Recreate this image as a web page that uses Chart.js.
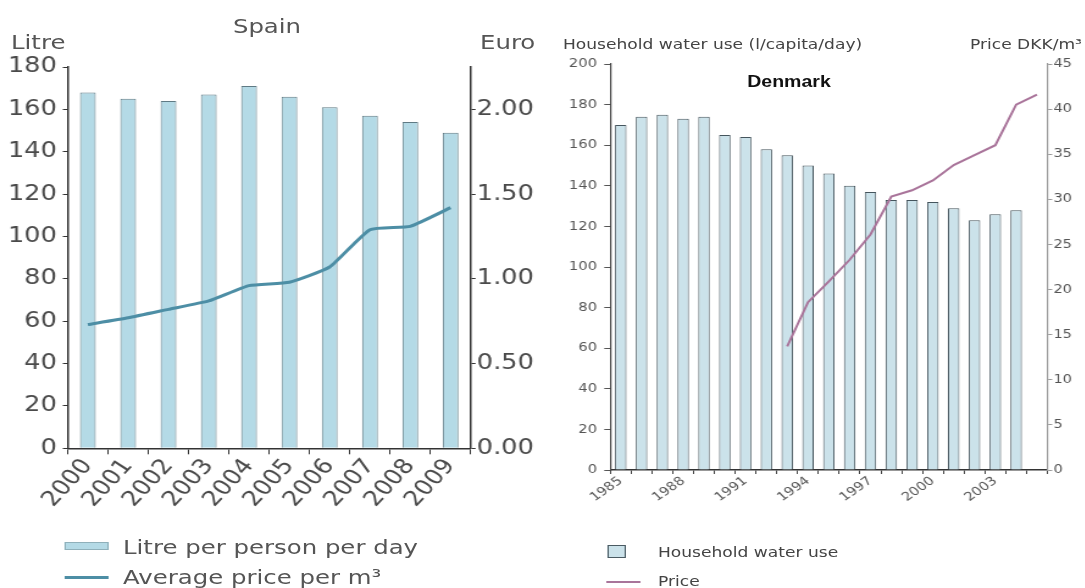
<!DOCTYPE html>
<html>
<head>
<meta charset="utf-8">
<script src="https://cdn.jsdelivr.net/npm/chart.js@4.4.0/dist/chart.umd.min.js"></script>
<style>
html,body{margin:0;padding:0;background:#fff;width:1085px;height:588px;overflow:hidden}
#stage{position:absolute;left:0;top:0;width:890px;height:588px;transform:scaleX(1.22);transform-origin:0 0}
canvas{position:absolute;top:0}
.t{position:absolute;white-space:nowrap;line-height:1}
.sp{font-family:"DejaVu Sans",sans-serif;font-size:20px;color:#555}
.dk{font-family:"DejaVu Sans",sans-serif;font-size:14px;color:#444}
.box{position:absolute}
</style>
</head>
<body>
<div id="stage">
  <canvas id="spain" width="443" height="520"></canvas>
  <canvas id="denmark" width="443" height="520"></canvas>

  <div class="t sp" data-x="267" data-y="26" data-a="c">Spain</div>
  <div class="t sp" data-x="11" data-y="42">Litre</div>
  <div class="t sp" data-x="480" data-y="42">Euro</div>
  <div class="box" data-x="65" data-y="542" data-w="43" data-h="8" style="background:#b4dae6;border:1px solid #8fb0ba;box-sizing:border-box"></div>
  <div class="t sp" data-x="123" data-y="547">Litre per person per day</div>
  <div class="box" data-x="65" data-y="576" data-w="43" data-h="3" style="background:#4d8ea5"></div>
  <div class="t sp" data-x="123" data-y="577">Average price per m³</div>

  <div class="t dk" data-x="563" data-y="44">Household water use (l/capita/day)</div>
  <div class="t dk" data-x="970" data-y="44">Price DKK/m³</div>
  <div class="t" data-x="789" data-y="82" data-a="c" style="font-family:'Liberation Sans',Arial,sans-serif;font-weight:bold;font-size:16px;color:#111">Denmark</div>
  <div class="box" data-x="608" data-y="545" data-w="18" data-h="13" style="background:#cbe2ea;border:1px solid #4a5a62;box-sizing:border-box"></div>
  <div class="t dk" data-x="658" data-y="552">Household water use</div>
  <div class="box" data-x="606" data-y="581" data-w="35" data-h="2" style="background:#a9749a"></div>
  <div class="t dk" data-x="658" data-y="581">Price</div>
</div>
<script>
// ---- data ----
const spainYears = ['2000','2001','2002','2003','2004','2005','2006','2007','2008','2009'];
const spainLitres = [168,165,164,167,171,166,161,157,154,149];
const spainPrice = [0.73,0.77,0.82,0.87,0.96,0.98,1.07,1.29,1.31,1.42];

const dkYears = ['1985','1986','1987','1988','1989','1990','1991','1992','1993','1994','1995',
                 '1996','1997','1998','1999','2000','2001','2002','2003','2004','2005'];
const dkWater = [170,174,175,173,174,165,164,158,155,150,146,140,137,133,133,132,129,123,126,128,null];
const dkPrice = [null,null,null,null,null,null,null,null,13.7,18.6,20.9,23.3,26.1,30.3,31.0,32.1,33.8,34.9,36.0,40.5,41.6];
const dkShownYears = ['1985','1988','1991','1994','1997','2000','2003'];

// ---- layout helpers (page coords -> stage coords) ----
const S = 1.22;
document.querySelectorAll('[data-x]').forEach(el => {
  const x = +el.dataset.x, y = +el.dataset.y;
  el.style.left = (x / S) + 'px';
  el.style.top = y + 'px';
  if (el.dataset.w) { el.style.width = (+el.dataset.w / S) + 'px'; el.style.height = el.dataset.h + 'px'; }
  else el.style.transform = el.dataset.a === 'c' ? 'translate(-50%,-50%)' : 'translateY(-50%)';
});
document.getElementById('spain').style.left = '0px';
document.getElementById('denmark').style.left = (545 / S) + 'px';

const CW = 443, CH = 520;

// ---- Spain ----
const spFont = {family:'DejaVu Sans', size:21};
new Chart(document.getElementById('spain'), {
  data: {
    labels: spainYears,
    datasets: [
      {type:'line', label:'Average price per m³', data:spainPrice, yAxisID:'y1',
       borderColor:'#4d8ea5', borderWidth:3, pointRadius:0, tension:0.15, order:0},
      {type:'bar', label:'Litre per person per day', data:spainLitres, yAxisID:'y',
       backgroundColor:'#b4dae6', borderColor:'#5f7a84', borderWidth:1,
       barPercentage:0.39, categoryPercentage:1, order:1}
    ]
  },
  options: {
    responsive:false, animation:false, devicePixelRatio:1,
    layout:{padding:{top:67, left:0, right:0, bottom:0}},
    plugins:{legend:{display:false}, tooltip:{enabled:false}},
    scales:{
      x:{offset:true,
         grid:{display:true, drawOnChartArea:false, drawTicks:true, tickLength:6, color:'#333', offset:true},
         border:{display:true, color:'#333', width:1.5},
         ticks:{autoSkip:false, minRotation:52, maxRotation:52, font:spFont, color:'#4a4a4a', padding:0},
         afterFit(s){ s.height = CH - 448.3; }},
      y:{position:'left', min:0, max:180,
         ticks:{stepSize:20, font:spFont, color:'#4a4a4a', padding:5},
         grid:{drawOnChartArea:false, tickLength:4, color:'#333'},
         border:{color:'#333', width:1.5},
         afterFit(s){ s.width = 67.7 / S; }},
      y1:{position:'right', min:0, max:2.25,
         ticks:{stepSize:0.5, includeBounds:false, font:spFont, color:'#4a4a4a', padding:1,
                callback:v => Number(v).toFixed(2)},
         grid:{drawOnChartArea:false, tickLength:4, color:'#333'},
         border:{color:'#333', width:1.5},
         afterFit(s){ s.width = CW - 470.7 / S; }}
    }
  }
});

// ---- Denmark ----
const dkFont = {family:'DejaVu Sans', size:12};
new Chart(document.getElementById('denmark'), {
  data: {
    labels: dkYears,
    datasets: [
      {type:'line', label:'Price', data:dkPrice, yAxisID:'y1',
       borderColor:'#a9749a', borderWidth:2, pointRadius:0, tension:0, order:0},
      {type:'bar', label:'Household water use', data:dkWater, yAxisID:'y',
       backgroundColor:'#cbe2ea', borderColor:'#45555d', borderWidth:1,
       barPercentage:0.55, categoryPercentage:1, order:1}
    ]
  },
  options: {
    responsive:false, animation:false, devicePixelRatio:1,
    layout:{padding:{top:64, left:0, right:0, bottom:0}},
    plugins:{legend:{display:false}, tooltip:{enabled:false}},
    scales:{
      x:{offset:true,
         grid:{display:true, drawOnChartArea:false, drawTicks:true, tickLength:4, color:'#444', offset:true},
         border:{display:true, color:'#333', width:1.5},
         ticks:{autoSkip:false, minRotation:40, maxRotation:40, font:dkFont, color:'#555', padding:0,
                callback:(v, i) => dkShownYears.includes(dkYears[i]) ? dkYears[i] : ''},
         afterFit(s){ s.height = CH - 470; }},
      y:{position:'left', min:0, max:200,
         ticks:{stepSize:20, font:dkFont, color:'#555', padding:6},
         grid:{drawOnChartArea:false, tickLength:5, color:'#555'},
         border:{color:'#444', width:1.2},
         afterFit(s){ s.width = (610 - 545) / S; }},
      y1:{position:'right', min:0, max:45,
         ticks:{stepSize:5, font:dkFont, color:'#555', padding:1},
         grid:{drawOnChartArea:false, tickLength:4, color:'#999'},
         border:{color:'#999', width:1.2},
         afterFit(s){ s.width = CW - (1047 - 545) / S; }}
    }
  }
});
</script>
</body>
</html>
